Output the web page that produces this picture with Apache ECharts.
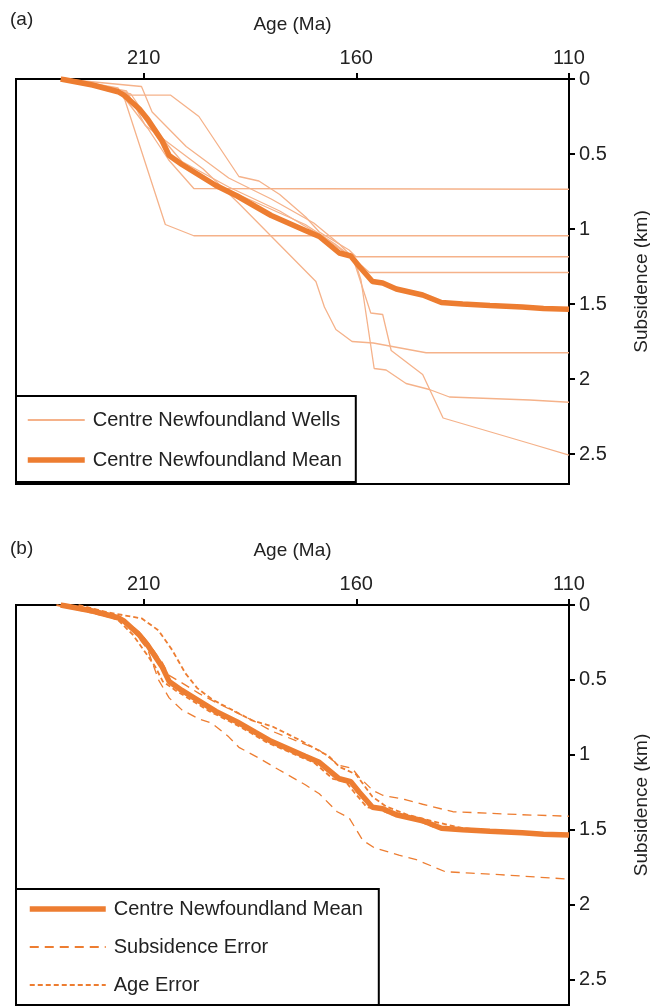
<!DOCTYPE html>
<html>
<head>
<meta charset="utf-8">
<script src="https://cdn.jsdelivr.net/npm/echarts@6/dist/echarts.min.js"></script>
<style>
  html, body { margin: 0; padding: 0; background: #fff; }
  #chart { width: 650px; height: 1008px; }
</style>
</head>
<body>
<div id="chart"></div>
<script>
// [age (Ma), subsidence (km)]
const mean_curve = [
  [229.5, 0], [222, 0.04], [216, 0.085], [214.5, 0.11], [211, 0.2], [209, 0.27],
  [205.7, 0.41], [204, 0.51], [201, 0.57], [197, 0.64], [193, 0.71], [188, 0.78],
  [183.7, 0.85], [180, 0.91], [172, 1.01], [168.7, 1.05], [164, 1.16], [161.3, 1.18],
  [159.3, 1.25], [156.2, 1.35], [153.8, 1.36], [150.6, 1.4], [144.4, 1.44], [140, 1.49],
  [135, 1.5], [128.6, 1.51], [121, 1.52], [116, 1.53], [110, 1.535]
]

const well_1 = [[228, 0], [216, 0.06], [214.4, 0.13], [209, 0.33], [204.1, 0.54], [198.2, 0.73], [110, 0.735]]
const well_2 = [[229, 0], [216, 0.07], [214.4, 0.14], [204.9, 0.97], [198.2, 1.045], [110, 1.045]]
const well_3 = [
  [227, 0], [214.4, 0.107], [203.7, 0.107], [197, 0.25], [187.6, 0.65], [182.9, 0.68],
  [178, 0.77], [171.9, 0.92], [168.7, 1.02], [161.7, 1.14], [160.1, 1.185], [110, 1.185]
]
const well_4 = [
  [229, 0], [210.5, 0.05], [208, 0.22], [200, 0.45], [190, 0.66], [180, 0.8],
  [170, 0.96], [164, 1.1], [160.5, 1.2], [156.9, 1.29], [110, 1.29]
]
const well_5 = [
  [229, 0], [214, 0.08], [209.6, 0.31], [196, 0.6], [187.6, 0.83], [169.5, 1.35],
  [167.5, 1.52], [164.8, 1.67], [161, 1.75], [156, 1.76], [143.6, 1.825], [110, 1.825]
]
const well_6 = [
  [229, 0], [214, 0.09], [209, 0.3], [204, 0.5], [195, 0.68], [183, 0.83], [172, 0.97],
  [165, 1.1], [160.5, 1.2], [158.9, 1.34], [155.8, 1.93], [153, 1.94], [148.3, 2.03],
  [142.8, 2.07], [138.1, 2.12], [119.2, 2.14], [110, 2.155]
]
const well_7 = [
  [229, 0], [213, 0.1], [207, 0.35], [201, 0.55], [190, 0.72], [178, 0.88], [168, 1.05],
  [162, 1.17], [160.5, 1.22], [156.6, 1.56], [153.8, 1.57], [151.8, 1.81], [144.4, 1.97],
  [139.6, 2.26], [119.2, 2.43], [110, 2.507]
]
const wells = [well_1, well_2, well_3, well_4, well_5, well_6, well_7]

const subsidence_err_upper = [
  [229, 0], [222, 0.037], [216, 0.078], [214.5, 0.1], [211, 0.18], [209, 0.25],
  [205.7, 0.38], [204, 0.47], [201, 0.52], [197, 0.59], [193, 0.65], [188, 0.72],
  [183.7, 0.78], [180, 0.84], [172, 0.93], [168.7, 0.97], [164, 1.07], [161, 1.09],
  [159.3, 1.15], [156, 1.24], [153.8, 1.27], [148.3, 1.3], [144.4, 1.33], [137.3, 1.38],
  [128.6, 1.39], [121, 1.4], [110, 1.41]
]
const subsidence_err_lower = [
  [229.6, 0], [222, 0.05], [215, 0.1], [213, 0.15], [209, 0.3], [206.5, 0.5], [204, 0.62],
  [201, 0.7], [197, 0.76], [193.9, 0.79], [190, 0.88], [187.6, 0.95], [183, 1.02],
  [178.2, 1.1], [172, 1.2], [168.7, 1.26], [164.5, 1.38], [161.7, 1.42], [158.5, 1.57],
  [155.8, 1.62], [150, 1.67], [145.9, 1.7], [139.1, 1.78], [133, 1.79], [126.3, 1.8],
  [118, 1.815], [110, 1.83]
]
const age_err_young = [
  [225.3, 0], [218.3, 0.05], [210.4, 0.09], [206.5, 0.17], [203.3, 0.3], [200.2, 0.455],
  [197.4, 0.555], [193.9, 0.63], [189.2, 0.7], [184.5, 0.77], [179.8, 0.81], [173.4, 0.9],
  [166.4, 1.01], [164, 1.08], [160.1, 1.13], [156.2, 1.28], [153, 1.345], [148, 1.4],
  [140.4, 1.455], [135, 1.49], [128, 1.505], [120, 1.52], [110, 1.53]
]
const age_err_old = [
  [230.5, 0], [224, 0.04], [218, 0.08], [216, 0.1], [212.5, 0.2], [210.5, 0.28],
  [207.3, 0.41], [205.5, 0.51], [202.5, 0.57], [198.5, 0.64], [194.5, 0.71], [189.5, 0.78],
  [185, 0.85], [181.5, 0.91], [173.5, 1.01], [170, 1.05], [165.5, 1.16], [162.5, 1.18],
  [160.5, 1.25], [157.5, 1.35], [155, 1.36], [151.5, 1.4], [145.5, 1.44], [141, 1.49],
  [136, 1.5], [129, 1.51], [121.5, 1.52], [116, 1.53], [110, 1.535]
]

const age_ticks = [110, 160, 210]
const depth_ticks = [0, 0.5, 1, 1.5, 2, 2.5]

const FONT = 'Liberation Sans, Arial, sans-serif'
const ORANGE = '#ed7d31'
const LIGHT = '#f5b28a'
const MEAN_W = 5.5

const xAxisFor = idx => ({
  gridIndex: idx,
  type: 'value',
  position: 'top',
  inverse: true,
  min: 110,
  max: 240,
  name: 'Age (Ma)',
  nameLocation: 'middle',
  nameGap: 45,
  nameTextStyle: { fontFamily: FONT, fontSize: 19, color: '#222' },
  axisLine: { show: true, onZero: false, lineStyle: { color: '#000', width: 2 } },
  axisTick: { show: true, inside: false, length: 6, customValues: age_ticks, lineStyle: { color: '#000', width: 2 } },
  axisLabel: { customValues: age_ticks, margin: 11, fontFamily: FONT, fontSize: 20, color: '#222' },
  splitLine: { show: false },
})

const yAxisFor = (idx, max) => ({
  gridIndex: idx,
  type: 'value',
  position: 'right',
  inverse: true,
  min: 0,
  max,
  name: 'Subsidence (km)',
  nameLocation: 'middle',
  nameGap: 63,
  nameTextStyle: { fontFamily: FONT, fontSize: 19, color: '#222' },
  axisLine: { show: true, onZero: false, lineStyle: { color: '#000', width: 2 } },
  axisTick: { show: true, inside: false, length: 6, customValues: depth_ticks, lineStyle: { color: '#000', width: 2 } },
  axisLabel: { customValues: depth_ticks, margin: 10, fontFamily: FONT, fontSize: 20, color: '#222' },
  splitLine: { show: false },
})

const lineSeries = (name, data, idx, style, z) => ({
  name,
  type: 'line',
  xAxisIndex: idx,
  yAxisIndex: idx,
  data,
  showSymbol: false,
  symbol: 'none',
  silent: true,
  animation: false,
  z,
  itemStyle: { color: style.color },
  lineStyle: style,
})

const series = []
wells.forEach(w => {
  series.push(lineSeries('Centre Newfoundland Wells', w, 0, { color: LIGHT, width: 1.3 }, 2))
})
series.push(lineSeries('Centre Newfoundland Mean', mean_curve, 0, { color: ORANGE, width: MEAN_W }, 3))

series.push(lineSeries('Centre Newfoundland Mean', mean_curve, 1, { color: ORANGE, width: MEAN_W }, 3))
series.push(lineSeries('Subsidence Error', subsidence_err_upper, 1, { color: ORANGE, width: 1.3, type: [9, 6] }, 2))
series.push(lineSeries('Subsidence Error', subsidence_err_lower, 1, { color: ORANGE, width: 1.3, type: [9, 6] }, 2))
series.push(lineSeries('Age Error', age_err_young, 1, { color: ORANGE, width: 1.8, type: [5, 3] }, 2))
series.push(lineSeries('Age Error', age_err_old, 1, { color: ORANGE, width: 1.8, type: [5, 3] }, 2))

// legend lines only: hide the round marker ECharts adds to line icons
const legendBase = {
  orient: 'vertical',
  selectedMode: false,
  borderColor: '#000',
  borderWidth: 2,
  borderRadius: 0,
  backgroundColor: '#fff',
  itemHeight: 20,
  itemStyle: { opacity: 0 },
  textStyle: { fontFamily: FONT, fontSize: 20, color: '#222', padding: [0, 0, 0, 3] },
  z: 10,
}

const meanLegendItem = { name: 'Centre Newfoundland Mean', lineStyle: { width: MEAN_W } }

const option = {
  animation: false,
  title: [
    { text: '(a)', left: 5, top: 5, textStyle: { fontFamily: FONT, fontSize: 19, fontWeight: 'normal', color: '#222' } },
    { text: '(b)', left: 5, top: 534, textStyle: { fontFamily: FONT, fontSize: 19, fontWeight: 'normal', color: '#222' } },
  ],
  grid: [
    { left: 16, right: 81, top: 79, height: 405, outerBoundsMode: 'none', show: true, borderColor: '#000', borderWidth: 2, backgroundColor: '#fff' },
    { left: 16, right: 81, top: 605, height: 400, outerBoundsMode: 'none', show: true, borderColor: '#000', borderWidth: 2, backgroundColor: '#fff' },
  ],
  xAxis: [xAxisFor(0), xAxisFor(1)],
  yAxis: [yAxisFor(0, 2.7), yAxisFor(1, 2.67)],
  legend: [
    {
      ...legendBase,
      left: 16,
      top: 396,
      itemWidth: 57,
      itemGap: 20,
      padding: [14, 14, 12, 9],
      data: ['Centre Newfoundland Wells', meanLegendItem],
    },
    {
      ...legendBase,
      left: 16,
      top: 889,
      itemWidth: 76,
      itemGap: 18,
      padding: [10, 16, 10, 11],
      data: [meanLegendItem, 'Subsidence Error', 'Age Error'],
    },
  ],
  series,
}

const chart = echarts.init(document.getElementById('chart'))
chart.setOption(option)
</script>
</body>
</html>
